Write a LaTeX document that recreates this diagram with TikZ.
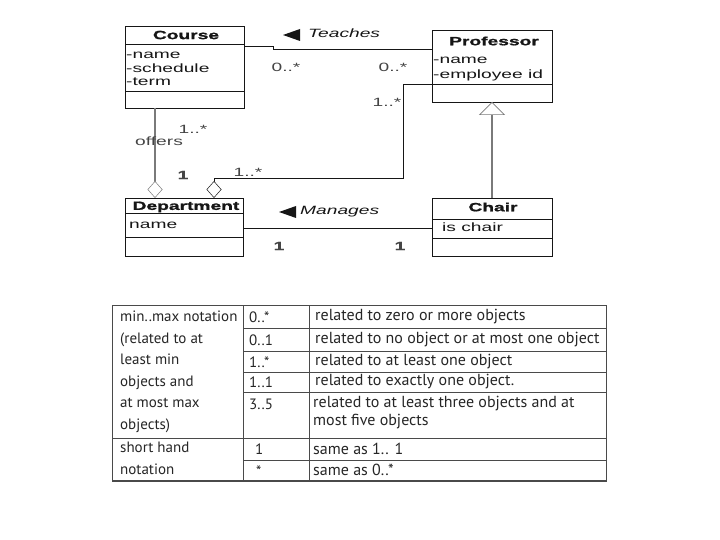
\documentclass[tikz,border=0pt]{standalone}
\usepackage{fontspec}
\usetikzlibrary{arrows.meta}
\newfontfamily\umlfont[FakeStretch=1.6,BoldFeatures={FakeBold=1.2}]{Liberation Sans}
\newfontfamily\tabfont{PT Sans}
\definecolor{umlink}{HTML}{161616}
\definecolor{umlgray}{HTML}{7A7A7A}
\definecolor{tabink}{HTML}{262626}
\definecolor{tabrule}{HTML}{4A4A4A}

\begin{document}
\begin{tikzpicture}[x=1pt,y=-1pt,line join=miter,
  font=\umlfont\fontsize{12}{14}\selectfont,text=umlink,
  box/.style={draw=umlink,line width=.9pt,anchor=north west,inner sep=0pt,outer sep=0pt},
  ttl/.style={font=\umlfont\bfseries\fontsize{12}{14}\selectfont,inner sep=0pt},
  attr/.style={anchor=west,inner sep=0pt},
  mult/.style={inner sep=1pt,text=umlink!80},
  assoc/.style={draw=umlink,line width=.7pt},
  agg/.style={line width=.9pt,-{Diamond[open,fill=white,width=15pt,length=17pt,line width=.5pt]}},
  gen/.style={draw=umlgray,line width=1.3pt,-{Triangle[open,fill=white,width=26pt,length=13pt,line width=.6pt]}},
  tab/.style={font=\tabfont\fontsize{15}{21.5}\selectfont,text=tabink,inner sep=0pt},
  tabd/.style={font=\tabfont\fontsize{16}{18}\selectfont,text=tabink,inner sep=0pt,anchor=west},
  rule/.style={draw=tabrule,line width=.8pt}]
\path[use as bounding box] (0,0) rectangle (720,540);
\fill[white] (0,0) rectangle (720,540);

% class boxes
\node[box,minimum width=119pt,minimum height=82pt] (course) at (125,26) {};
\node[box,minimum width=120pt,minimum height=72pt] (prof) at (432,30) {};
\node[box,minimum width=118pt,minimum height=58pt] (dept) at (125,198) {};
\node[box,minimum width=120pt,minimum height=58pt] (chair) at (432,198) {};
\draw[umlink,line width=.8pt] ([yshift=-18pt]course.north west) -- ([yshift=-18pt]course.north east);
\draw[umlink,line width=.8pt] ([yshift=-65pt]course.north west) -- ([yshift=-65pt]course.north east);
\draw[umlink,line width=.8pt] ([yshift=-54pt]prof.north west) -- ([yshift=-54pt]prof.north east);
\draw[umlink,line width=.8pt] ([yshift=-15pt]dept.north west) -- ([yshift=-15pt]dept.north east);
\draw[umlink,line width=.8pt] ([yshift=-39pt]dept.north west) -- ([yshift=-39pt]dept.north east);
\draw[umlink,line width=.8pt] ([yshift=-21pt]chair.north west) -- ([yshift=-21pt]chair.north east);
\draw[umlink,line width=.8pt] ([yshift=-40pt]chair.north west) -- ([yshift=-40pt]chair.north east);

\node[ttl] (courseT) at (186,35) {Course};
\node[attr] (courseA1) at (126,55) {-name};
\node[attr] (courseA2) at (126,68) {-schedule};
\node[attr] (courseA3) at (126,82) {-term};
\node[ttl] (profT) at (494,41) {Professor};
\node[attr] (profA1) at (433,60) {-name};
\node[attr] (profA2) at (433,75) {-employee id};
\node[ttl] (deptT) at (186,207) {Department};
\node[attr] (deptA1) at (129,225) {name};
\node[ttl] (chairT) at (493,207) {Chair};
\node[attr] (chairA1) at (442,227) {is chair};

% associations
\draw[assoc] ([yshift=-20pt]course.north east) -| ++(29,3) -- ([yshift=-19pt]prof.north west);
\fill[umlink] (283,35) -- ++(17,-6) -- ++(0,12) -- cycle;
\node[attr,font=\umlfont\itshape\fontsize{12}{14}\selectfont] (teachesL) at (308,33) {Teaches};
\node[mult] (m1) at (286,67) {0..*};
\node[mult] (m2) at (393,67) {0..*};

\coordinate (bend) at (403,178);
\draw[assoc,agg] ([yshift=-54pt]prof.north west) -| (bend) -| ([xshift=89pt]dept.north west);
\node[mult] (m3) at (387,102) {1..*};
\node[mult] (m4) at (248,172) {1..*};

\draw[agg,draw=umlgray,line width=1.2pt] ([xshift=30pt]course.south west) -- ([xshift=30pt]dept.north west);
\node[mult,anchor=west] (offersL) at (134,141) {offers};
\node[mult] (m5) at (193,129) {1..*};
\node[mult,font=\umlfont\bfseries\fontsize{12}{14}\selectfont] (m6) at (183,175) {1};

\draw[assoc] ([yshift=-30pt]dept.north east) -- ([yshift=-30pt]chair.north west);
\fill[umlink] (279,212) -- ++(17,-6) -- ++(0,12) -- cycle;
\node[attr,font=\umlfont\itshape\fontsize{12}{14}\selectfont] (managesL) at (300,212) {Manages};
\node[mult,font=\umlfont\bfseries\fontsize{12}{14}\selectfont] (m7) at (279,246) {1};
\node[mult,font=\umlfont\bfseries\fontsize{12}{14}\selectfont] (m8) at (400,246) {1};

% generalization
\draw[gen] (chair.north) -- (prof.south);

% multiplicity table
\draw[rule] (112,305) rectangle (606,481);
\draw[tabrule,line width=2pt] (112,481) -- (606,481);
\draw[rule] (243,305) -- (243,481);
\draw[rule] (309,305) -- (309,481);
\draw[rule] (112,438) -- (606,438);
\foreach \y in {328,351,372,392,460}
  \draw[rule] (243,\y) -- (606,\y);

\node[tab,anchor=north west,align=left] (noteL) at (120,311)
  {min..max notation\\(related to at\\least min\\objects and\\at most max\\objects)};
\node[tab,anchor=north west,align=left] (shortL) at (120,442) {short hand\\notation};

\node[tab,anchor=west] (c1) at (249,317) {0..*};
\node[tab,anchor=west] (c2) at (249,340) {0..1};
\node[tab,anchor=west] (c3) at (249,362) {1..*};
\node[tab,anchor=west] (c4) at (249,382) {1..1};
\node[tab,anchor=west] (c5) at (249,404) {3..5};
\node[tab,anchor=west] (c6) at (255,449) {1};
\node[tab,anchor=west] (c7) at (256,471) {*};

\node[tabd] (d1) at (315,317) {related to zero or more objects};
\node[tabd] (d2) at (315,340) {related to no object or at most one object};
\node[tabd] (d3) at (315,362) {related to at least one object};
\node[tabd] (d4) at (315,382) {related to exactly one object.};
\node[tabd,anchor=north west,align=left] (d5) at (313,396)
  {related to at least three objects and at\\most five objects};
\node[tabd] (d6) at (313,449) {same as 1.. 1};
\node[tabd] (d7) at (313,470) {same as 0..*};
\end{tikzpicture}
\end{document}
